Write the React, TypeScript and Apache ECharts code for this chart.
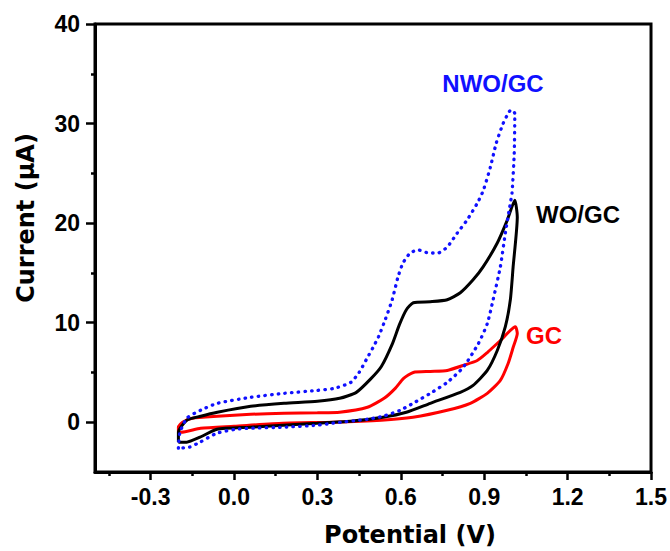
import React, { useEffect, useRef } from "react";
import * as echarts from "echarts";

// Tick values
const xMajorTicks = [-0.3, 0.0, 0.3, 0.6, 0.9, 1.2, 1.5];
const xMinorTicks = [-0.45, -0.15, 0.15, 0.45, 0.75, 1.05, 1.35];
const yMajorTicks = [0, 10, 20, 30, 40];
const yMinorTicks = [5, 15, 25, 35];

// NWO/GC (blue dotted) – potential (V), current (µA): forward then reverse scan
const nwoScan: [number, number][] = [
  [-0.2, -2.6], [-0.195, -1.1], [-0.17, 0.4], [-0.12, 1.2], [-0.06, 1.9], [0.06, 2.5],
  [0.18, 2.9], [0.3, 3.2], [0.36, 3.4], [0.42, 4.0], [0.45, 5.0], [0.48, 6.5],
  [0.5, 7.5], [0.52, 8.6], [0.544, 10.3], [0.569, 12.3], [0.59, 14.6], [0.608, 16.0],
  [0.634, 17.0], [0.663, 17.3], [0.7, 17.0], [0.734, 17.0], [0.767, 17.6], [0.803, 19.0],
  [0.838, 20.3], [0.875, 22.0], [0.897, 23.3], [0.922, 25.6], [0.943, 28.0], [0.968, 30.0],
  [0.99, 31.2], [1.0, 31.4], [1.01, 31.0], [1.008, 27.0], [1.0, 23.0], [0.994, 22.0],
  [0.976, 19.0], [0.958, 15.6], [0.932, 12.3], [0.911, 9.9], [0.879, 7.9], [0.824, 5.5],
  [0.767, 4.0], [0.706, 2.9], [0.644, 1.9], [0.598, 1.2], [0.536, 0.6], [0.479, 0.3],
  [0.356, -0.1], [0.299, -0.3], [0.176, -0.5], [0.058, -0.6], [0.008, -0.7], [-0.061, -1.1],
  [-0.122, -2.0], [-0.16, -2.5], [-0.2, -2.6],
];

// WO/GC (black solid)
const woScan: [number, number][] = [
  [-0.2, -2.0], [-0.2, -1.0], [-0.17, 0.2], [-0.12, 0.6], [-0.06, 1.0], [0.06, 1.6],
  [0.18, 1.9], [0.3, 2.1], [0.38, 2.4], [0.44, 3.0], [0.49, 4.3], [0.53, 5.6],
  [0.57, 7.9], [0.595, 9.8], [0.62, 11.3], [0.645, 12.0], [0.706, 12.1], [0.767, 12.3],
  [0.814, 13.0], [0.86, 14.3], [0.896, 15.6], [0.947, 18.0], [0.983, 20.3], [1.01, 22.3],
  [1.019, 20.6], [1.004, 15.6], [0.994, 12.3], [0.976, 9.6], [0.947, 7.2], [0.911, 5.2],
  [0.86, 3.7], [0.814, 3.0], [0.706, 1.9], [0.62, 1.0], [0.536, 0.5], [0.418, 0.1],
  [0.299, -0.1], [0.176, -0.3], [0.058, -0.5], [-0.061, -0.7], [-0.122, -1.5], [-0.17, -2.0],
  [-0.2, -2.0],
];

// GC (red solid)
const gcScan: [number, number][] = [
  [-0.2, -1.0], [-0.2, -0.5], [-0.185, 0.0], [-0.15, 0.4], [-0.06, 0.6], [0.06, 0.8],
  [0.18, 0.9], [0.3, 0.95], [0.38, 1.0], [0.48, 1.5], [0.54, 2.4], [0.58, 3.4],
  [0.61, 4.4], [0.645, 5.0], [0.706, 5.1], [0.767, 5.2], [0.824, 5.7], [0.875, 6.2],
  [0.911, 7.0], [0.958, 8.2], [1.012, 9.6], [1.019, 8.9], [1.004, 7.5], [0.986, 5.9],
  [0.958, 4.2], [0.911, 2.9], [0.85, 1.9], [0.767, 1.2], [0.644, 0.5], [0.53, 0.2],
  [0.356, 0.0], [0.176, -0.1], [0.0, -0.4], [-0.12, -0.6], [-0.19, -1.0], [-0.2, -1.0],
];

const labelFont = "'Liberation Sans', Arial, sans-serif";
const titleFont = "'DejaVu Sans', sans-serif";

export default function App() {
  const ref = useRef<HTMLDivElement>(null);

  useEffect(() => {
    if (!ref.current) return;
    const chart = echarts.init(ref.current, undefined, { renderer: "svg" });

    const baseX = {
      type: "value" as const,
      min: -0.5,
      max: 1.5,
      position: "bottom" as const,
      splitLine: { show: false },
    };
    const baseY = {
      type: "value" as const,
      min: -5,
      max: 40,
      position: "left" as const,
      splitLine: { show: false },
    };

    chart.setOption({
      animation: false,
      backgroundColor: "#fff",
      grid: {
        left: 95,
        top: 24,
        right: 18,
        bottom: 79,
        show: true,
        borderColor: "#000",
        borderWidth: 3,
        backgroundColor: "transparent",
      },
      xAxis: [
        {
          ...baseX,
          axisLine: { show: true, onZero: false, lineStyle: { color: "#000", width: 3 } },
          axisTick: {
            show: true,
            customValues: xMajorTicks,
            length: 8,
            lineStyle: { color: "#000", width: 2.5 },
          },
          axisLabel: {
            customValues: xMajorTicks,
            formatter: (v: number) => v.toFixed(1),
            margin: 13,
            fontSize: 23,
            fontWeight: "bold",
            color: "#000",
            fontFamily: labelFont,
          },
        },
        {
          ...baseX,
          axisLine: { show: false, onZero: false },
          axisTick: {
            show: true,
            customValues: xMinorTicks,
            length: 4,
            lineStyle: { color: "#000", width: 2.5 },
          },
          axisLabel: { show: false },
        },
      ],
      yAxis: [
        {
          ...baseY,
          axisLine: { show: true, onZero: false, lineStyle: { color: "#000", width: 3 } },
          axisTick: {
            show: true,
            customValues: yMajorTicks,
            length: 9,
            lineStyle: { color: "#000", width: 2.5 },
          },
          axisLabel: {
            customValues: yMajorTicks,
            formatter: (v: number) => String(v),
            margin: 15,
            fontSize: 23,
            fontWeight: "bold",
            color: "#000",
            fontFamily: labelFont,
          },
        },
        {
          ...baseY,
          axisLine: { show: false, onZero: false },
          axisTick: {
            show: true,
            customValues: yMinorTicks,
            length: 4,
            lineStyle: { color: "#000", width: 2.5 },
          },
          axisLabel: { show: false },
        },
      ],
      series: [
        {
          name: "GC",
          type: "line",
          data: gcScan,
          showSymbol: false,
          smooth: 0.2,
          lineStyle: { color: "#ff0000", width: 3 },
          z: 3,
        },
        {
          name: "WO/GC",
          type: "line",
          data: woScan,
          showSymbol: false,
          smooth: 0.2,
          lineStyle: { color: "#000000", width: 3 },
          z: 4,
        },
        {
          name: "NWO/GC",
          type: "line",
          data: nwoScan,
          showSymbol: false,
          smooth: 0.2,
          lineStyle: { color: "#1010ff", width: 3.3, type: [0.5, 6.2], cap: "round" },
          z: 5,
        },
      ],
      graphic: [
        {
          type: "text",
          x: 493,
          y: 83,
          style: {
            text: "NWO/GC",
            fill: "#1010ff",
            font: `bold 24px ${labelFont}`,
            textAlign: "center",
            textVerticalAlign: "middle",
          },
        },
        {
          type: "text",
          x: 578,
          y: 214,
          style: {
            text: "WO/GC",
            fill: "#000",
            font: `bold 24px ${labelFont}`,
            textAlign: "center",
            textVerticalAlign: "middle",
          },
        },
        {
          type: "text",
          x: 544,
          y: 335,
          style: {
            text: "GC",
            fill: "#ff0000",
            font: `bold 24px ${labelFont}`,
            textAlign: "center",
            textVerticalAlign: "middle",
          },
        },
        {
          type: "text",
          x: 410,
          y: 535,
          style: {
            text: "Potential (V)",
            fill: "#000",
            font: `bold 24px ${titleFont}`,
            textAlign: "center",
            textVerticalAlign: "middle",
          },
        },
        {
          type: "text",
          x: 26,
          y: 218,
          rotation: Math.PI / 2,
          style: {
            text: "Current (µA)",
            fill: "#000",
            font: `bold 24px ${titleFont}`,
            textAlign: "center",
            textVerticalAlign: "middle",
          },
        },
      ],
    });

    return () => chart.dispose();
  }, []);

  return (
    <div
      ref={ref}
      style={{ position: "fixed", left: 0, top: 0, width: 670, height: 551, background: "#fff" }}
    />
  );
}
